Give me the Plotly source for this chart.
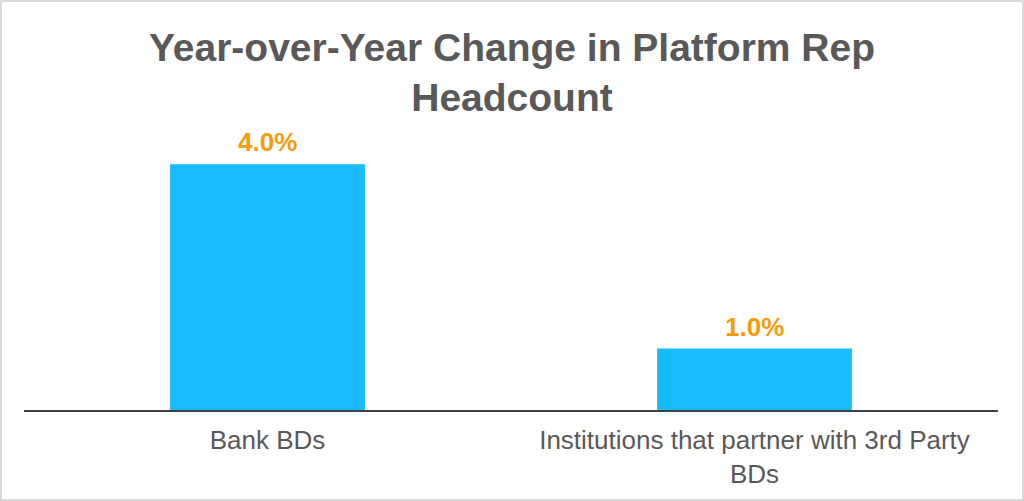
import plotly.graph_objects as go

categories = ["Bank BDs", "Institutions that partner with 3rd Party<br>BDs"]
values = [4.0, 1.0]
value_labels = ["4.0%", "1.0%"]

W, H = 1024, 501
M = dict(l=24, r=26, t=115, b=91)

fig = go.Figure()
fig.add_trace(go.Bar(
    x=categories, y=values,
    marker=dict(color="#17BBFE", line=dict(width=0)),
    width=0.4,
))

# value labels above the bars
for c, v, t in zip(categories, values, value_labels):
    fig.add_annotation(
        x=c, y=v, text="<b>" + t + "</b>", showarrow=False,
        yanchor="bottom", yshift=5,
        font=dict(family="Liberation Sans, Arial", size=26, color="#F59B0C"),
    )

fig.update_layout(
    width=W, height=H,
    paper_bgcolor="white", plot_bgcolor="white",
    margin=M,
    title=dict(
        text="<b>Year-over-Year Change in Platform Rep<br>Headcount</b>",
        x=0.5, xanchor="center", y=1 - 60.5 / H, yanchor="middle",
        font=dict(family="Liberation Sans, Arial", size=39, color="#595959"),
    ),
    xaxis=dict(
        showline=True, linecolor="#404040", linewidth=2,
        showgrid=False, ticks="", ticklabelstandoff=6,
        tickfont=dict(family="Liberation Sans, Arial", size=26, color="#595959"),
    ),
    yaxis=dict(visible=False, range=[0, 4.8]),
    showlegend=False,
)

# light frame round the whole picture
pw = W - M["l"] - M["r"]
ph = H - M["t"] - M["b"]
fig.add_shape(type="rect", xref="paper", yref="paper",
              x0=-(M["l"] - 1) / pw, x1=1 + (M["r"] - 1) / pw,
              y0=-(M["b"] - 1) / ph, y1=1 + (M["t"] - 1) / ph,
              line=dict(color="#D9D9D9", width=2))

fig.write_html("out.html", config={"displayModeBar": False},
               post_script="document.body.style.margin='0';")
